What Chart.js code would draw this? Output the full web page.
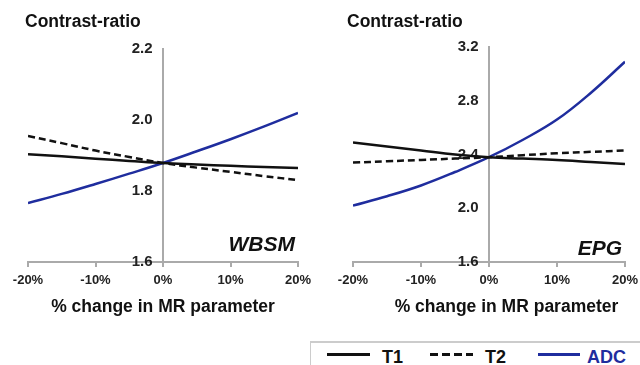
<!DOCTYPE html>
<html lang="en">
<head>
  <meta charset="UTF-8">
  <title>Contrast-ratio sensitivity</title>
  <script src="https://cdn.jsdelivr.net/npm/chart.js"></script>
  <style>
    body {
      margin: 0;
      background: #fff;
      font-family: 'Liberation Sans', Arial, sans-serif;
      width: 640px;
      height: 365px;
      overflow: hidden;
      position: relative;
    }
    .panel {
      position: absolute;
      top: 0;
      width: 320px;
      height: 335px;
    }
    .panel h2 {
      position: absolute;
      margin: 0;
      top: 11px;
      font-size: 17.5px;
      line-height: 20px;
      font-weight: bold;
      color: #111;
    }
    .legend {
      position: absolute;
      left: 310px;
      top: 341px;
      width: 330px;
      height: 40px;
      border-top: 2px solid #ccc;
      border-left: 1px solid #ccc;
    }
    .item {
      position: absolute;
      top: 4px;
      font-size: 18px;
      font-weight: bold;
      line-height: 20px;
      color: #111;
    }
    .swatch {
      position: absolute;
      top: 10px;
      width: 43px;
      height: 2.5px;
      background: #111;
    }
  </style>
</head>
<body>

  <div class="panel" style="left:0">
    <h2 style="left:25px">Contrast-ratio</h2>
    <canvas id="wbsm" width="320" height="335"></canvas>
  </div>
  <div class="panel" style="left:320px">
    <h2 style="left:27px">Contrast-ratio</h2>
    <canvas id="epg" width="320" height="335"></canvas>
  </div>

  <div class="legend">
    <span class="swatch" style="left:16px"></span>
    <div class="item" style="left:71px">T1</div>
    <span class="swatch" style="left:119px;background:repeating-linear-gradient(90deg,#111 0 8px,transparent 8px 12px)"></span>
    <div class="item" style="left:174px">T2</div>
    <span class="swatch" style="left:227px;width:42px;background:#1f2d9e"></span>
    <div class="item" style="left:276px;color:#1f2d9e">ADC</div>
  </div>

  <script>
    // % change in MR parameter
    const changes = [-20, -15, -10, -5, 0, 5, 10, 15, 20];

    // WBSM panel
    const wbsmT1  = [1.904, 1.898, 1.891, 1.885, 1.879, 1.875, 1.871, 1.868, 1.865];
    const wbsmT2  = [1.955, 1.935, 1.914, 1.896, 1.879, 1.866, 1.854, 1.842, 1.831];
    const wbsmADC = [1.766, 1.792, 1.820, 1.849, 1.879, 1.912, 1.946, 1.982, 2.020];

    // EPG panel
    const epgT1  = [2.49, 2.46, 2.43, 2.40, 2.38, 2.37, 2.36, 2.345, 2.33];
    const epgT2  = [2.34, 2.35, 2.36, 2.37, 2.38, 2.395, 2.41, 2.42, 2.43];
    const epgADC = [2.02, 2.09, 2.17, 2.27, 2.38, 2.51, 2.66, 2.86, 3.09];

    const blue = '#1f2d9e';
    const axisGrey = '#aaaaaa';
    const fam = '"Liberation Sans", Arial, sans-serif';

    function pts(values) {
      return changes.map((c, i) => ({ x: c, y: values[i] }));
    }

    const panelLabel = {
      id: 'panelLabel',
      afterDraw(chart, args, opts) {
        const { ctx, chartArea } = chart;
        ctx.save();
        ctx.font = 'italic bold 21px ' + fam;
        ctx.fillStyle = '#111';
        ctx.textAlign = 'right';
        ctx.textBaseline = 'alphabetic';
        ctx.fillText(opts.text, chartArea.right - 3, chartArea.bottom - opts.lift);
        ctx.restore();
      }
    };

    // the y axis sits at 0% and its labels end right on the line,
    // so a trailing space gives them a small gap
    const yLabel = v => v.toFixed(1) + '\u2002\u2009';

    function drawPanel(id, t1, t2, adc, yMin, yMax, yStep, label, lift, xTitle, pad) {
      const ctx = document.getElementById(id).getContext('2d');
      new Chart(ctx, {
        type: 'line',
        data: {
          datasets: [
            { label: 'T1', data: pts(t1), borderColor: '#111', borderWidth: 2.5, pointRadius: 0, tension: 0.4 },
            { label: 'T2', data: pts(t2), borderColor: '#111', borderWidth: 2.5, borderDash: [7, 4], pointRadius: 0, tension: 0.4 },
            { label: 'ADC', data: pts(adc), borderColor: blue, borderWidth: 2.5, pointRadius: 0, tension: 0.4 }
          ]
        },
        options: {
          responsive: false,
          animation: false,
          layout: { padding: pad },
          plugins: {
            legend: { display: false },
            tooltip: { enabled: false },
            panelLabel: { text: label, lift: lift }
          },
          scales: {
            x: {
              type: 'linear',
              min: -20,
              max: 20,
              border: { color: axisGrey, width: 2 },
              grid: { drawOnChartArea: false, color: axisGrey, tickLength: 5, lineWidth: 2 },
              ticks: {
                stepSize: 10,
                color: '#222',
                font: { size: 13, weight: 'bold', family: fam, lineHeight: 1.8 },
                padding: 2,
                callback: v => v + '%'
              },
              title: {
                display: true,
                text: xTitle,
                color: '#111',
                font: { size: 17.5, weight: 'bold', family: fam, lineHeight: 1.0 },
                padding: { top: 4, bottom: 0 }
              }
            },
            y: {
              position: { x: 0 },
              min: yMin,
              max: yMax,
              border: { color: axisGrey, width: 2 },
              grid: { display: false },
              ticks: {
                stepSize: yStep,
                color: '#222',
                font: { size: 15, weight: 'bold', family: fam },
                callback: yLabel
              }
            }
          }
        },
        plugins: [panelLabel]
      });
    }

    drawPanel('wbsm', wbsmT1, wbsmT2, wbsmADC, 1.6, 2.2, 0.2, 'WBSM', 11,
      '% change in MR parameter', { left: 28, right: 22, top: 49, bottom: 19 });
    drawPanel('epg', epgT1, epgT2, epgADC, 1.6, 3.2, 0.4, 'EPG', 7,
      '\u2002\u2002\u2002\u2002% change in MR parameter', { left: 33, right: 15, top: 47, bottom: 19 });
  </script>

</body>
</html>
